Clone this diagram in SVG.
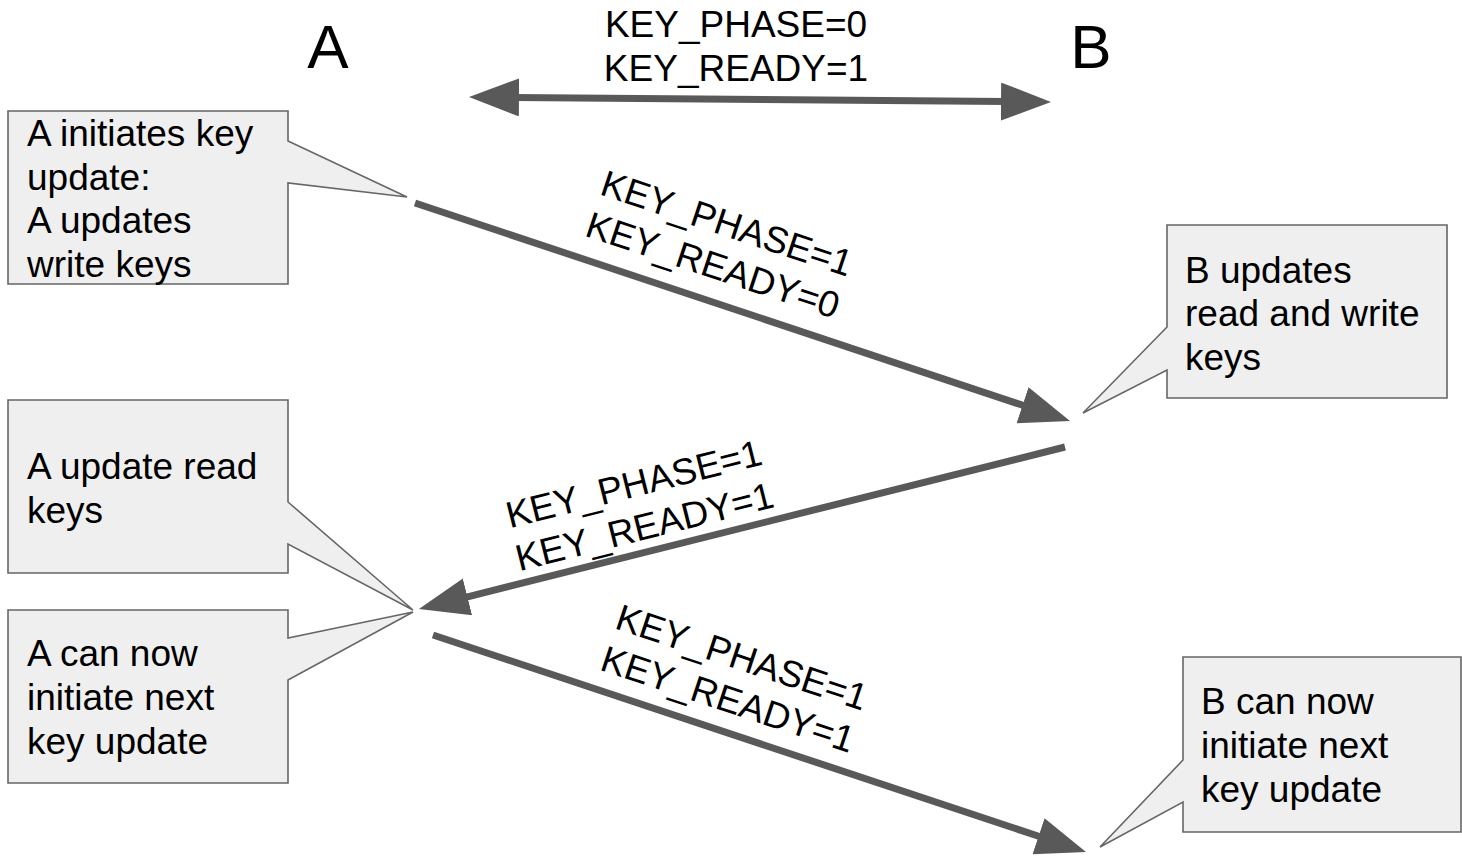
<svg xmlns="http://www.w3.org/2000/svg" width="1462" height="857" viewBox="0 0 1462 857">
<style>
  .t { font-family: "Liberation Sans", Arial, sans-serif; font-size: 37px; fill: #000; }
  .h { font-family: "Liberation Sans", Arial, sans-serif; font-size: 62px; fill: #000; text-anchor: middle; }
  .lbl { font-family: "Liberation Sans", Arial, sans-serif; font-size: 37px; fill: #000; text-anchor: middle; }
  .box { fill: #efefef; stroke: #666666; stroke-width: 1.6; stroke-linejoin: miter; }
  .arr { fill: none; stroke: #595959; stroke-width: 7; marker-end: url(#head); }
</style>
<defs>
  <marker id="head" markerUnits="userSpaceOnUse" markerWidth="52" markerHeight="40" refX="5" refY="19" orient="auto-start-reverse">
    <path d="M0,0 L50,19 L0,38 Z" fill="#595959"/>
  </marker>
</defs>
<rect width="1462" height="857" fill="#ffffff"/>

<g id="header-A"><text class="h" x="328" y="68">A</text></g>
<g id="header-B"><text class="h" x="1091" y="68">B</text></g>

<g id="connectors">
  <line class="arr" x1="514" y1="97.4" x2="1006" y2="101.6" marker-start="url(#head)"/>
  <line class="arr" x1="415" y1="203" x2="1027.3" y2="406.8"/>
  <line class="arr" x1="1065" y1="447" x2="462.6" y2="598.1"/>
  <line class="arr" x1="433" y1="635" x2="1043.3" y2="837.8"/>
</g>

<g id="labels">
  <g id="label-top">
    <text class="lbl" x="736" y="37">KEY_PHASE=0</text>
    <text class="lbl" x="736" y="81">KEY_READY=1</text>
  </g>
  <g id="label-1" transform="translate(720,244) rotate(18.4)">
    <text class="lbl" x="0" y="-9">KEY_PHASE=1</text>
    <text class="lbl" x="0" y="35">KEY_READY=0</text>
  </g>
  <g id="label-2" transform="translate(639,505) rotate(-14.1)">
    <text class="lbl" x="0" y="-9">KEY_PHASE=1</text>
    <text class="lbl" x="0" y="35">KEY_READY=1</text>
  </g>
  <g id="label-3" transform="translate(735,678) rotate(18.4)">
    <text class="lbl" x="0" y="-9">KEY_PHASE=1</text>
    <text class="lbl" x="0" y="35">KEY_READY=1</text>
  </g>
</g>

<g id="callout-a-initiates">
  <path class="box" d="M8,111 H288 V141 L407,197 L288,183 V284 H8 Z"/>
  <text class="t" x="27" y="146">A initiates key</text>
  <text class="t" x="27" y="190">update:</text>
  <text class="t" x="27" y="233">A updates</text>
  <text class="t" x="27" y="277">write keys</text>
</g>

<g id="callout-b-updates">
  <path class="box" d="M1167,225 H1447 V398 H1167 V370 L1083,413 L1167,327 Z"/>
  <text class="t" x="1185" y="283">B updates</text>
  <text class="t" x="1185" y="326">read and write</text>
  <text class="t" x="1185" y="370">keys</text>
</g>

<g id="callout-a-update-read">
  <path class="box" d="M8,400 H288 V502 L413,610 L288,544 V573 H8 Z"/>
  <text class="t" x="27" y="479">A update read</text>
  <text class="t" x="27" y="523">keys</text>
</g>

<g id="callout-a-can-now">
  <path class="box" d="M8,610 H288 V638 L413,612 L288,680 V783 H8 Z"/>
  <text class="t" x="27" y="666">A can now</text>
  <text class="t" x="27" y="710">initiate next</text>
  <text class="t" x="27" y="754">key update</text>
</g>

<g id="callout-b-can-now">
  <path class="box" d="M1183,657 H1461 V832 H1183 V802 L1100,847 L1183,760 Z"/>
  <text class="t" x="1201" y="714">B can now</text>
  <text class="t" x="1201" y="758">initiate next</text>
  <text class="t" x="1201" y="802">key update</text>
</g>
</svg>
